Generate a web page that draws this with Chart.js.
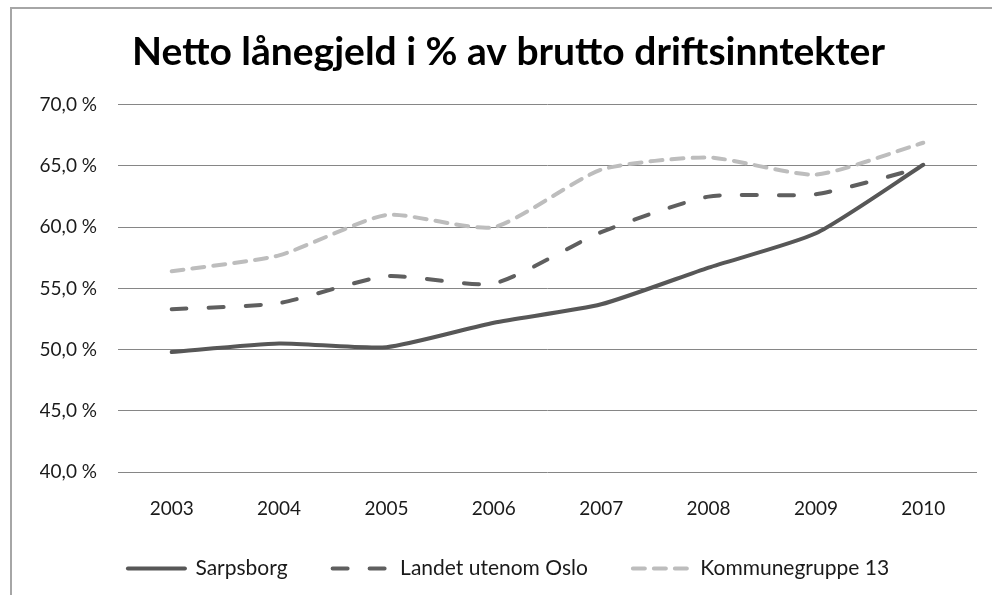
<!DOCTYPE html>
<html>
<head>
<meta charset="utf-8">
<script src="https://cdn.jsdelivr.net/npm/chart.js@4"></script>
<style>
  html, body { margin: 0; padding: 0; background: #fff; }
  #wrap { position: relative; width: 992px; height: 595px; overflow: hidden; }
  #frame { position: absolute; left: 10px; top: 7px; width: 1100px; height: 700px; border: 2px solid #a6a6a6; }
  canvas { position: absolute; left: 0; top: 0; }
</style>
</head>
<body>
<div id="wrap">
  <div id="frame"></div>
  <canvas id="chart" width="992" height="595"></canvas>
</div>
<script>
// values
const years = ["2003", "2004", "2005", "2006", "2007", "2008", "2009", "2010"];
const sarpsborg = [49.8, 50.5, 50.2, 52.2, 53.7, 56.7, 59.5, 65.1];
const landet = [53.3, 53.8, 56.0, 55.4, 59.6, 62.5, 62.7, 64.9];
const kommunegruppe = [56.4, 57.7, 61.0, 60.0, 64.7, 65.7, 64.3, 66.9];
const seriesNames = ["Sarpsborg", "Landet utenom Oslo", "Kommunegruppe 13"];

Chart.defaults.font.family = "Lato, 'Open Sans', sans-serif";
Chart.defaults.color = "#1a1a1a";

// the legend padding also sets the gap between items, so move the box up a bit afterwards
const legendShift = -6;
const nudgeLegend = {
  id: "nudgeLegend",
  afterLayout: (chart) => {
    chart.legend.top += legendShift;
    chart.legend.bottom += legendShift;
  },
};

const ctx = document.getElementById("chart").getContext("2d");

new Chart(ctx, {
  type: "line",
  data: {
    labels: years,
    datasets: [
      {
        label: seriesNames[0],
        data: sarpsborg,
        borderColor: "#575757",
        backgroundColor: "#575757",
        borderWidth: 4,
        borderCapStyle: "round",
        borderJoinStyle: "round",
      },
      {
        label: seriesNames[1],
        data: landet,
        borderColor: "#5f5f5f",
        backgroundColor: "#5f5f5f",
        borderWidth: 4,
        borderDash: [15, 22],
        borderCapStyle: "round",
      },
      {
        label: seriesNames[2],
        data: kommunegruppe,
        borderColor: "#bdbdbd",
        backgroundColor: "#bdbdbd",
        borderWidth: 4,
        borderDash: [12, 9],
        borderCapStyle: "round",
      },
    ],
  },
  plugins: [nudgeLegend],
  options: {
    responsive: false,
    animation: false,
    elements: {
      point: { radius: 0, hoverRadius: 0 },
      line: { tension: 0.2 },
    },
    layout: {
      padding: { left: 40, right: 15, top: 0, bottom: 0 },
    },
    scales: {
      x: {
        offset: true,
        grid: { display: false, drawTicks: false },
        border: { display: false },
        ticks: { padding: 27, font: { size: 19, lineHeight: 1 }, color: "#1a1a1a" },
        afterFit: (scale) => {
          scale.height = 47;
        },
      },
      y: {
        min: 40,
        max: 70,
        grid: { color: "#868686", lineWidth: 1, drawTicks: false },
        border: { display: false },
        ticks: {
          stepSize: 5,
          padding: 21,
          font: { size: 19 },
          color: "#1a1a1a",
          callback: (value) => value.toFixed(1).replace(".", ",") + " %",
        },
        afterFit: (scale) => {
          scale.width = 78;
        },
      },
    },
    plugins: {
      title: {
        display: true,
        text: "Netto lånegjeld i % av brutto driftsinntekter",
        color: "#000",
        font: { size: 39, weight: "bold" },
        padding: { top: 29, bottom: 29 },
      },
      legend: {
        position: "bottom",
        labels: {
          usePointStyle: true,
          pointStyle: "line",
          pointStyleWidth: 57,
          padding: 45,
          font: { size: 21 },
          color: "#1a1a1a",
          generateLabels: (chart) => {
            const items = Chart.defaults.plugins.legend.labels.generateLabels(chart);
            items.forEach((item) => {
              const ds = chart.data.datasets[item.datasetIndex];
              item.lineDash = ds.borderDash || [];
              item.lineCap = "round";
            });
            return items;
          },
        },
      },
      tooltip: { enabled: false },
    },
  },
});
</script>
</body>
</html>
